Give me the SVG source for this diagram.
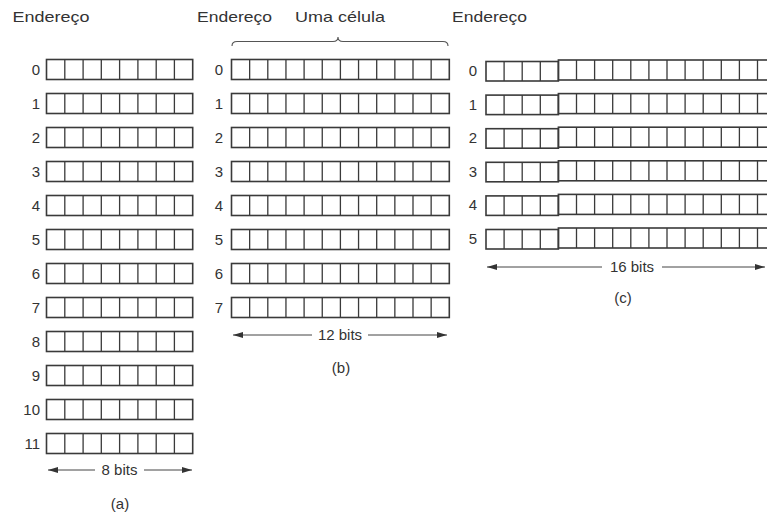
<svg xmlns="http://www.w3.org/2000/svg" xmlns:xlink="http://www.w3.org/1999/xlink" width="767" height="516" viewBox="0 0 767 516">
<style>
.box{fill:none;stroke:#3a3a3a;stroke-width:1.6}
.div{fill:none;stroke:#3a3a3a;stroke-width:1.3}
.t{font-family:"Liberation Sans",Arial,sans-serif;font-size:15px;fill:#333}
.n{font-family:"Liberation Sans",Arial,sans-serif;font-size:15px;fill:#333;text-anchor:end}
.c{text-anchor:middle}
.dim{fill:none;stroke:#444;stroke-width:1;marker-end:url(#ah)}
.br{fill:none;stroke:#555;stroke-width:1.1}
</style>
<defs>
<marker id="ah" markerUnits="userSpaceOnUse" markerWidth="10" markerHeight="6" refX="10" refY="3" orient="auto">
<path d="M0,0 L10,3 L0,6 z" fill="#333"/>
</marker>
<g id="row8">
<rect class="box" x="0" y="0" width="146.2" height="20"/>
<path class="div" d="M18.3,0v20M36.6,0v20M54.8,0v20M73.1,0v20M91.4,0v20M109.7,0v20M127.9,0v20"/>
</g>
<g id="row12">
<rect class="box" x="0" y="0" width="217.8" height="20"/>
<path class="div" d="M18.15,0v20M36.3,0v20M54.45,0v20M72.6,0v20M90.75,0v20M108.9,0v20M127.05,0v20M145.2,0v20M163.35,0v20M181.5,0v20M199.65,0v20"/>
</g>
<g id="row16">
<rect class="box" x="0" y="1.5" width="72.4" height="19.5"/>
<path class="div" d="M18.1,1.5v19.5M36.2,1.5v19.5M54.3,1.5v19.5"/>
<rect class="box" x="72.4" y="0" width="217.2" height="20"/>
<path class="div" d="M90.5,0v20M108.6,0v20M126.7,0v20M144.8,0v20M162.9,0v20M181,0v20M199.1,0v20M217.2,0v20M235.3,0v20M253.4,0v20M271.5,0v20"/>
</g>
</defs>
<rect width="767" height="516" fill="#fff"/>

<g id="mem-a">
<text class="t" x="12.5" y="22" textLength="77" lengthAdjust="spacingAndGlyphs">Endereço</text>
<text class="n" x="40" y="75">0</text><use xlink:href="#row8" x="46.5" y="59.5"/>
<text class="n" x="40" y="109">1</text><use xlink:href="#row8" x="46.5" y="93.5"/>
<text class="n" x="40" y="143">2</text><use xlink:href="#row8" x="46.5" y="127.5"/>
<text class="n" x="40" y="177">3</text><use xlink:href="#row8" x="46.5" y="161.5"/>
<text class="n" x="40" y="211">4</text><use xlink:href="#row8" x="46.5" y="195.5"/>
<text class="n" x="40" y="245">5</text><use xlink:href="#row8" x="46.5" y="229.5"/>
<text class="n" x="40" y="279">6</text><use xlink:href="#row8" x="46.5" y="263.5"/>
<text class="n" x="40" y="313">7</text><use xlink:href="#row8" x="46.5" y="297.5"/>
<text class="n" x="40" y="347">8</text><use xlink:href="#row8" x="46.5" y="331.5"/>
<text class="n" x="40" y="381">9</text><use xlink:href="#row8" x="46.5" y="365.5"/>
<text class="n" x="40" y="415">10</text><use xlink:href="#row8" x="46.5" y="399.5"/>
<text class="n" x="40" y="449">11</text><use xlink:href="#row8" x="46.5" y="433.5"/>
<text class="t c" x="119.5" y="475">8 bits</text>
<text class="t c" x="120" y="509">(a)</text>
</g>

<g id="mem-b">
<text class="t" x="197" y="22" textLength="75" lengthAdjust="spacingAndGlyphs">Endereço</text>
<text class="t" x="295" y="22" textLength="90" lengthAdjust="spacingAndGlyphs">Uma célula</text>
<text class="n" x="223" y="75">0</text><use xlink:href="#row12" x="231.5" y="59.5"/>
<text class="n" x="223" y="109">1</text><use xlink:href="#row12" x="231.5" y="93.5"/>
<text class="n" x="223" y="143">2</text><use xlink:href="#row12" x="231.5" y="127.5"/>
<text class="n" x="223" y="177">3</text><use xlink:href="#row12" x="231.5" y="161.5"/>
<text class="n" x="223" y="211">4</text><use xlink:href="#row12" x="231.5" y="195.5"/>
<text class="n" x="223" y="245">5</text><use xlink:href="#row12" x="231.5" y="229.5"/>
<text class="n" x="223" y="279">6</text><use xlink:href="#row12" x="231.5" y="263.5"/>
<text class="n" x="223" y="313">7</text><use xlink:href="#row12" x="231.5" y="297.5"/>
<text class="t c" x="340" y="340">12 bits</text>
<text class="t c" x="341" y="373">(b)</text>
</g>

<g id="mem-c">
<text class="t" x="452" y="22" textLength="75" lengthAdjust="spacingAndGlyphs">Endereço</text>
<text class="n" x="477" y="76">0</text><use xlink:href="#row16" x="486" y="60"/>
<text class="n" x="477" y="109.5">1</text><use xlink:href="#row16" x="486" y="93.6"/>
<text class="n" x="477" y="143">2</text><use xlink:href="#row16" x="486" y="127.2"/>
<text class="n" x="477" y="176.5">3</text><use xlink:href="#row16" x="486" y="160.8"/>
<text class="n" x="477" y="210">4</text><use xlink:href="#row16" x="486" y="194.4"/>
<text class="n" x="477" y="243.5">5</text><use xlink:href="#row16" x="486" y="228"/>
<text class="t c" x="632" y="272">16 bits</text>
<text class="t c" x="623" y="303">(c)</text>
</g>

<g id="connectors">
<path class="br" d="M232,46 Q232,41.5 237,41.5 L333,41.5 Q338,41.5 338,37 Q338,41.5 343,41.5 L443,41.5 Q448,41.5 448,46"/>
<line class="dim" x1="95" y1="470" x2="48" y2="470"/>
<line class="dim" x1="144" y1="470" x2="192" y2="470"/>
<line class="dim" x1="312" y1="335" x2="233" y2="335"/>
<line class="dim" x1="368" y1="335" x2="447" y2="335"/>
<line class="dim" x1="602" y1="267" x2="487" y2="267"/>
<line class="dim" x1="662" y1="267" x2="765" y2="267"/>
</g>
</svg>
